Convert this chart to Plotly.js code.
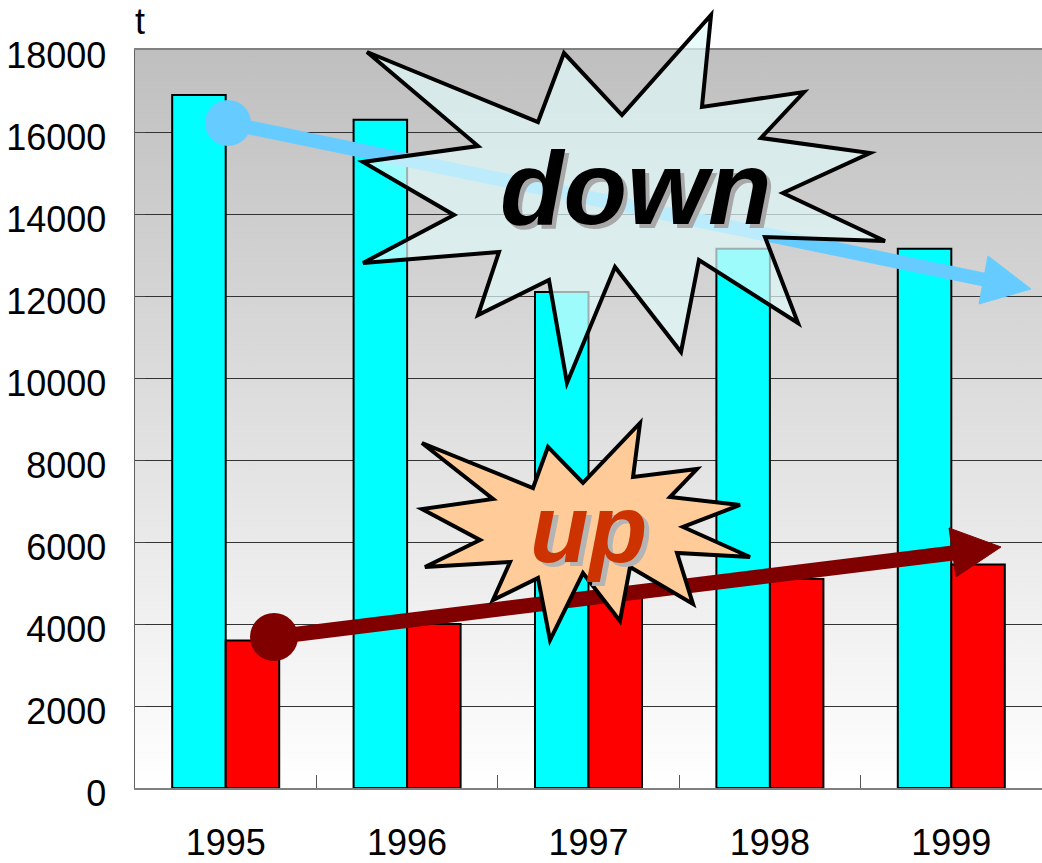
<!DOCTYPE html>
<html>
<head>
<meta charset="utf-8">
<script src="https://cdn.plot.ly/plotly-3.0.1.min.js"></script>
<style>html,body{margin:0;padding:0;background:#fff;}#chart{width:1042px;height:863px;}</style>
</head>
<body>
<div id="chart"></div>
<script>
// ---- data ----
const years = ['1995', '1996', '1997', '1998', '1999'];
const seriesCyan = [16900, 16300, 12100, 13150, 13150];
const seriesRed = [3600, 4000, 4650, 5100, 5450];
const yTickVals = [0, 2000, 4000, 6000, 8000, 10000, 12000, 14000, 16000, 18000];
const yTickText = ['0', '2000', '4000', '6000', '8000', '10000', '12000', '14000', '16000', '18000'];
const yUnit = 't';
const labelDown = 'down';
const labelUp = 'up';

// ---- geometry helpers (plot area in pixels) ----
const L = 135, T = 50, W = 907, H = 738;
const px = p => (p - L) / W;
const py = p => (T + H - p) / H;
function pathFrom(pts) {
  return 'M ' + pts.map(p => px(p[0]).toFixed(4) + ',' + py(p[1]).toFixed(4)).join(' L ') + ' Z';
}
function circle(cx, cy, r, color) {
  return {type: 'circle', xref: 'paper', yref: 'paper', x0: px(cx - r), x1: px(cx + r), y0: py(cy + r), y1: py(cy - r),
          fillcolor: color, line: {width: 0}, layer: 'above'};
}
function line(x0, y0, x1, y1, color, w) {
  return {type: 'line', xref: 'paper', yref: 'paper', x0: px(x0), y0: py(y0), x1: px(x1), y1: py(y1),
          line: {color: color, width: w}, layer: 'above'};
}
function poly(pts, fill, lineColor, lw) {
  return {type: 'path', xref: 'paper', yref: 'paper', path: pathFrom(pts), fillcolor: fill,
          line: {color: lineColor, width: lw}, layer: 'above'};
}

const downStar = [[367,52],[538,122],[564,53],[622,115],[711,15],[702,107],[804,92],[761,138],[870,153],[783,193],
  [885,241],[765,237],[798,323],[699,260],[681,352],[615,267],[567,383],[549,280],[478,315],[499,252],[363,263],[454,215],[363,162],[478,146]];
const upStar = [[422,443],[533,488],[548,447],[583,483],[640,423],[633,477],[697,469],[670,497],[740,505],[683,527],
  [750,557],[677,553],[693,604],[630,567],[620,621],[583,573],[550,640],[538,578],[493,600],[510,562],[425,567],[480,540],[422,509],[493,499]];

const blue = '#66ccff', maroon = '#800000';
const shapes = [
  // blue down arrow
  line(228, 123, 986, 280, blue, 14),
  poly([[988,256],[1031,289],[979,304]], blue, blue, 1),
  circle(228, 123, 23, blue),
  // maroon up arrow
  line(274, 637, 953, 553, maroon, 15),
  poly([[949,528],[1001,547],[956,577]], maroon, maroon, 1),
  circle(274, 637, 24, maroon),
  // starbursts
  poly(downStar, 'rgba(225,250,250,0.7)', '#000', 4),
  poly(upStar, '#ffcc99', '#000', 4)
];

const gradSvg = "<svg xmlns='http://www.w3.org/2000/svg' width='10' height='100' preserveAspectRatio='none'>" +
  "<defs><linearGradient id='g' x1='0' y1='0' x2='0' y2='1'><stop offset='0' stop-color='#bfbfbf'/>" +
  "<stop offset='1' stop-color='#ffffff'/></linearGradient></defs><rect width='10' height='100' fill='url(#g)'/></svg>";

const font = 'Arial, "Liberation Sans", sans-serif';
const annotations = [
  {text: yUnit, xref: 'paper', yref: 'paper', x: px(140), y: py(21), showarrow: false, xanchor: 'center', yanchor: 'middle',
   font: {family: font, size: 36, color: '#000'}},
  {text: labelDown, xref: 'paper', yref: 'paper', x: px(639), y: py(192), showarrow: false, xanchor: 'center', yanchor: 'middle',
   font: {family: font, size: 104, color: '#a8a8a8', weight: 'bold', style: 'italic'}},
  {text: labelDown, xref: 'paper', yref: 'paper', x: px(635), y: py(188), showarrow: false, xanchor: 'center', yanchor: 'middle',
   font: {family: font, size: 104, color: '#000', weight: 'bold', style: 'italic'}},
  {text: labelUp, xref: 'paper', yref: 'paper', x: px(593), y: py(532), showarrow: false, xanchor: 'center', yanchor: 'middle',
   font: {family: font, size: 96, color: '#b4b4b4', weight: 'bold', style: 'italic'}},
  {text: labelUp, xref: 'paper', yref: 'paper', x: px(588), y: py(528), showarrow: false, xanchor: 'center', yanchor: 'middle',
   font: {family: font, size: 96, color: '#cc3300', weight: 'bold', style: 'italic'}}
];

const traces = [
  {type: 'bar', x: years, y: seriesCyan, marker: {color: '#00ffff', line: {color: '#000', width: 2}}, hoverinfo: 'skip'},
  {type: 'bar', x: years, y: seriesRed, marker: {color: '#ff0000', line: {color: '#000', width: 2}}, hoverinfo: 'skip'}
];

const layout = {
  width: 1042, height: 863,
  margin: {l: L, r: 0, t: T, b: 863 - T - H, autoexpand: false},
  paper_bgcolor: '#ffffff', plot_bgcolor: 'rgba(0,0,0,0)',
  showlegend: false, barmode: 'group', bargap: 0.41, bargroupgap: 0,
  font: {family: font, color: '#000'},
  xaxis: {type: 'category', range: [-0.5, 4.5], fixedrange: true, tickson: 'boundaries', ticks: 'inside', ticklen: 13,
          tickcolor: '#555', tickwidth: 1, showgrid: false, showline: true, linecolor: '#808080', linewidth: 2, mirror: true,
          tickfont: {family: font, size: 36, color: '#000'}, ticklabelstandoff: 22, automargin: false},
  yaxis: {range: [0, 18000], fixedrange: true, tickvals: yTickVals, ticktext: yTickText, ticks: 'inside', ticklen: 10,
          tickcolor: '#444', tickwidth: 1, showgrid: true, gridcolor: '#333333', gridwidth: 1, zeroline: false,
          showline: true, linecolor: '#606060', linewidth: 1.5, ticklabelshift: 5,
          tickfont: {family: font, size: 36, color: '#000'}, ticklabelstandoff: 20, automargin: false},
  images: [{source: 'data:image/svg+xml;base64,' + btoa(gradSvg), xref: 'paper', yref: 'paper', x: 0, y: 1,
            sizex: 1, sizey: 1, sizing: 'stretch', xanchor: 'left', yanchor: 'top', layer: 'below'}],
  shapes: shapes,
  annotations: annotations
};

Plotly.newPlot('chart', traces, layout, {staticPlot: true, displayModeBar: false});
</script>
</body>
</html>
